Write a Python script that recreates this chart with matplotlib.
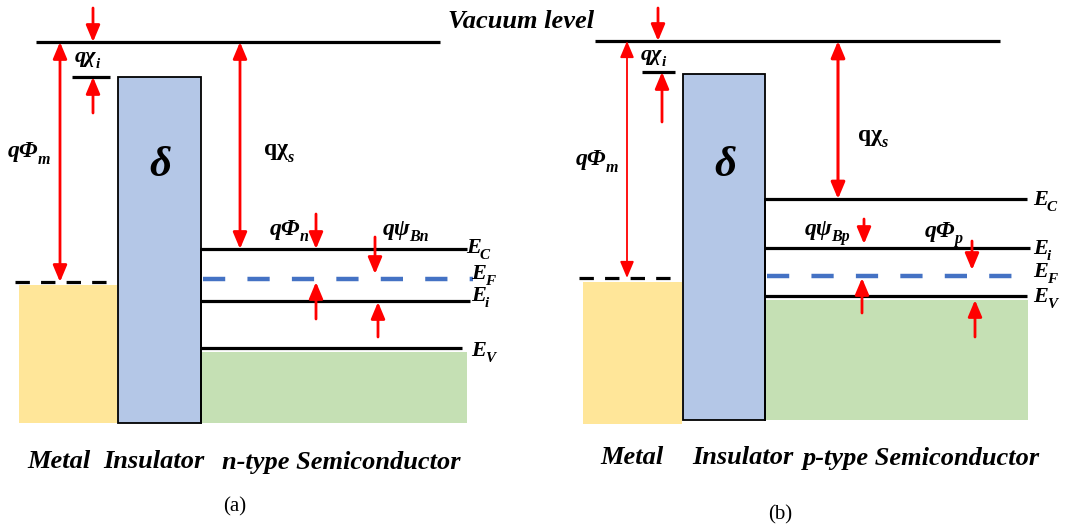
import matplotlib
matplotlib.use("Agg")
import matplotlib.pyplot as plt
from matplotlib.patches import Rectangle

# -----------------------------
# Diagram geometry (pixel coords, y grows downward)
# -----------------------------
# panel (a): n-type
a_vac_y, a_vac_x = 42, (36, 440)
a_metal = (19, 117, 285, 423)          # x0, x1, top, bottom
a_metal_ef = 282
a_ins = (118, 201, 77, 423)
a_semi_x = (201, 467)
a_levels = {"Ec": 249, "EF": 279, "Ei": 301, "Ev": 348}
a_green = (352, 467)                   # top, right edge
a_chi_line = (72, 110, 77)

# panel (b): p-type
b_vac_y, b_vac_x = 41, (595, 1000)
b_metal = (583, 682, 282, 424)
b_metal_ef = 278
b_ins = (683, 765, 74, 420)
b_semi_x = (765, 1027)
b_levels = {"Ec": 199, "EF": 276, "Ei": 248, "Ev": 296}
b_green = (300, 1028)
b_chi_line = (642, 675, 72)

YELLOW = "#ffe699"
BLUE_BOX = "#b4c7e7"
GREEN = "#c5e0b4"
DASH_BLUE = "#4472c4"
RED = "#ff0000"

FONT = "Liberation Serif"

fig = plt.figure(figsize=(10.68, 5.31), dpi=100)
ax = fig.add_axes([0, 0, 1, 1])
ax.set_xlim(0, 1068)
ax.set_ylim(531, 0)
ax.axis("off")


def hline(y, x0, x1, color="black", lw=2.3, ls="-", dashes=None):
    line, = ax.plot([x0, x1], [y, y], color=color, lw=lw, ls=ls,
                    solid_capstyle="butt", dash_capstyle="butt")
    if dashes:
        line.set_dashes(dashes)


def arrow(x, y_from, y_to, lw=2.0, both=False):
    style = "<|-|>" if both else "-|>"
    ax.annotate("", xy=(x, y_to), xytext=(x, y_from),
                arrowprops=dict(arrowstyle=style + ",head_length=1.0,head_width=0.42",
                                color=RED, lw=lw, shrinkA=0, shrinkB=0,
                                mutation_scale=10))


def label(x, y, main, sub="", size=17, style="italic", sub_size=None):
    t = ax.text(x, y, main, fontsize=size, fontfamily=FONT, fontweight="bold",
                fontstyle=style, ha="left", va="center")
    if sub:
        ax.annotate(sub, xy=(1, 0.12), xycoords=t, xytext=(-0.8, 0),
                    textcoords="offset points", ha="left", va="center",
                    fontsize=sub_size or size * 0.68, fontfamily=FONT,
                    fontweight="bold", fontstyle="italic")
    return t


def panel(vac_y, vac_x, metal, metal_ef, ins, semi_x, levels, green,
          chi_line, ef_right, ec_right, ev_right):
    # metal and semiconductor fills
    ax.add_patch(Rectangle((metal[0], metal[2]), metal[1] - metal[0],
                           metal[3] - metal[2], color=YELLOW, lw=0))
    ax.add_patch(Rectangle((semi_x[0], green[0]), green[1] - semi_x[0],
                           ins[3] - green[0], color=GREEN, lw=0))
    ax.add_patch(Rectangle((ins[0], ins[2]), ins[1] - ins[0], ins[3] - ins[2],
                           facecolor=BLUE_BOX, edgecolor="black", lw=1.3, zorder=3))
    # levels
    hline(vac_y, *vac_x)
    hline(metal_ef, metal[0] - 4, metal[1] - 2, lw=2.3, ls="--", dashes=(4.5, 3.5))
    hline(chi_line[2], chi_line[0], chi_line[1])
    hline(levels["Ec"], semi_x[0], ec_right)
    hline(levels["Ei"], semi_x[0], ec_right + 3)
    hline(levels["Ev"], semi_x[0], ev_right)
    hline(levels["EF"], semi_x[0] + 2, ef_right, color=DASH_BLUE, lw=3.2,
          ls="--", dashes=(5, 5))
    ax.plot([ins[1], ins[1]], [levels["Ec"], ins[3]], color="black", lw=1.3, zorder=4)
    ax.text((ins[0] + ins[1]) / 2 + 1, 166, r"$\delta$", fontsize=31,
            ha="center", va="center", fontfamily=FONT)


plt.rcParams["mathtext.fontset"] = "custom"
plt.rcParams["mathtext.it"] = "Liberation Serif:italic:bold"
plt.rcParams["mathtext.rm"] = "Liberation Serif:bold"

# -----------------------------
# Panel (a)
# -----------------------------
panel(a_vac_y, a_vac_x, a_metal, a_metal_ef, a_ins, a_semi_x, a_levels,
      a_green, a_chi_line, ef_right=473, ec_right=467, ev_right=462)

arrow(93, 8, a_vac_y)
arrow(93, 113, a_chi_line[2])
arrow(60, a_metal_ef, a_vac_y, both=True)
arrow(240, a_vac_y, a_levels["Ec"], both=True)
arrow(316, 214, a_levels["Ec"])
arrow(316, 319, a_levels["EF"] + 3)
arrow(375, 237, a_levels["EF"] - 5)
arrow(378, 337, a_levels["Ei"] + 1)

label(75, 57, "q\u03c7", "i", size=16)
label(8, 152, "q\u03a6", "m")
label(264, 150, "q\u03c7", "s", style="normal")
label(270, 229, "q\u03a6", "n")
label(383, 229, "q\u03c8", "Bn")
label(466, 248, "E", "C", size=16)
label(471, 274, "E", "F", size=16)
label(471, 296, "E", "i", size=16)
label(471, 351, "E", "V", size=16)

# -----------------------------
# Panel (b)
# -----------------------------
panel(b_vac_y, b_vac_x, b_metal, b_metal_ef, b_ins, b_semi_x, b_levels,
      b_green, b_chi_line, ef_right=1017, ec_right=1027, ev_right=1027)

arrow(658, 8, b_vac_y)
arrow(662, 122, b_chi_line[2])
arrow(627, b_metal_ef, b_vac_y, lw=1.3, both=True)
arrow(838, b_vac_y, b_levels["Ec"], lw=2.2, both=True)
arrow(864, 219, b_levels["Ei"] - 4)
arrow(862, 313, b_levels["EF"] + 2)
arrow(972, 241, b_levels["EF"] - 6)
arrow(975, 337, b_levels["Ev"] + 4)

label(641, 55, "q\u03c7", "i", size=16)
label(576, 160, "q\u03a6", "m")
label(858, 135, "q\u03c7", "s", style="normal")
label(805, 229, "q\u03c8", "Bp")
label(925, 231, "q\u03a6", "p")
label(1033, 200, "E", "C", size=16)
label(1033, 249, "E", "i", size=16)
label(1033, 272, "E", "F", size=16)
label(1033, 297, "E", "V", size=16)

# -----------------------------
# Titles and captions
# -----------------------------
txt = dict(fontsize=19, fontfamily=FONT, fontweight="bold", fontstyle="italic",
           va="center")
ax.text(448, 22, "Vacuum level", ha="left", **txt)
ax.text(27, 462, "Metal", ha="left", **txt)
ax.text(103, 462, "Insulator", ha="left", **txt)
ax.text(222, 462, "n-type Semiconductor", ha="left", **txt)
ax.text(600, 458, "Metal", ha="left", **txt)
ax.text(692, 458, "Insulator", ha="left", **txt)
ax.text(803, 458, "p-type Semiconductor", ha="left", **txt)
ax.text(235, 507, "(a)", ha="center", va="center", fontsize=15, fontfamily=FONT)
ax.text(780, 515, "(b)", ha="center", va="center", fontsize=15, fontfamily=FONT)

fig.savefig("out.png", dpi=100)
